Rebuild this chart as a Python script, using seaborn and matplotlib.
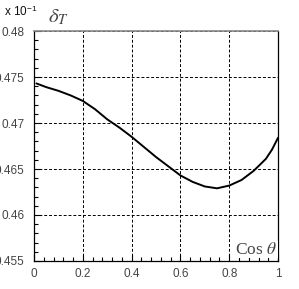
import matplotlib
matplotlib.use("Agg")
import matplotlib.pyplot as plt
import numpy as np
import pandas as pd
import seaborn as sns
from matplotlib.ticker import MultipleLocator

# Values
cos_theta = [0.01, 0.05, 0.1, 0.15, 0.2, 0.25, 0.3, 0.35, 0.4, 0.45, 0.5, 0.55,
             0.6, 0.65, 0.7, 0.75, 0.8, 0.85, 0.9, 0.95, 0.975, 1.0]
delta_t = [0.4743, 0.4739, 0.4735, 0.4730, 0.4724, 0.4715, 0.4704, 0.4695,
           0.4685, 0.4674, 0.4663, 0.4653, 0.4643, 0.4636, 0.4631, 0.4629,
           0.4632, 0.4638, 0.4648, 0.4661, 0.4671, 0.4684]

x_ticks = [0, 0.2, 0.4, 0.6, 0.8, 1.0]
x_labels = ["0", "0.2", "0.4", "0.6", "0.8", "1"]
y_ticks = [0.455, 0.46, 0.465, 0.47, 0.475, 0.48]
y_labels = ["0.455", "0.46", "0.465", "0.47", "0.475", "0.48"]

sns.set_theme(style="ticks")
plt.rcParams["font.family"] = ["Liberation Sans", "DejaVu Sans"]
plt.rcParams["mathtext.fontset"] = "stix"

df = pd.DataFrame({"cos": cos_theta, "delta": delta_t})

fig = plt.figure(figsize=(2.99, 2.89), dpi=100)
ax = fig.add_axes([0.1137, 0.0969, 0.8163, 0.7958])

sns.lineplot(data=df, x="cos", y="delta", ax=ax, color="black", linewidth=1.4)

ax.set_xlim(0, 1)
ax.set_ylim(0.455, 0.48)
ax.set_xticks(x_ticks)
ax.set_xticklabels(x_labels)
ax.set_yticks(y_ticks)
ax.set_yticklabels(y_labels)
ax.xaxis.set_minor_locator(MultipleLocator(0.04))
ax.yaxis.set_minor_locator(MultipleLocator(0.001))
ax.tick_params(which="both", direction="in", top=False, right=False,
               colors="black", labelcolor="#444444", labelsize=8.5)
ax.tick_params(which="major", length=5, width=0.8)
ax.tick_params(which="minor", length=3, width=0.8)
ax.tick_params(axis="y", pad=7)
ax.tick_params(axis="x", pad=5)

ax.grid(True, which="major", color="black", linestyle=(0, (3, 2)), linewidth=0.7)
for side in ["left", "bottom", "right"]:
    ax.spines[side].set_color("black")
    ax.spines[side].set_linewidth(0.9)
ax.spines["top"].set_color("#888888")
ax.spines["top"].set_linewidth(1.2)

ax.set_xlabel("")
ax.set_ylabel("")

fig.text(0.013, 0.958, r"x 10$^{\mathregular{-1}}$", fontsize=8.5, color="#111111",
         ha="left", va="center")
fig.text(0.16, 0.905, r"$\delta_T$", fontsize=15, color="#444444",
         ha="left", va="bottom")
ax.text(0.995, 0.015, r"Cos $\theta$", transform=ax.transAxes, fontsize=12.5,
        family="Liberation Serif", color="#444444", ha="right", va="bottom",
        bbox=dict(facecolor="white", edgecolor="none", pad=0.5))

fig.savefig("out.png", dpi=100)
